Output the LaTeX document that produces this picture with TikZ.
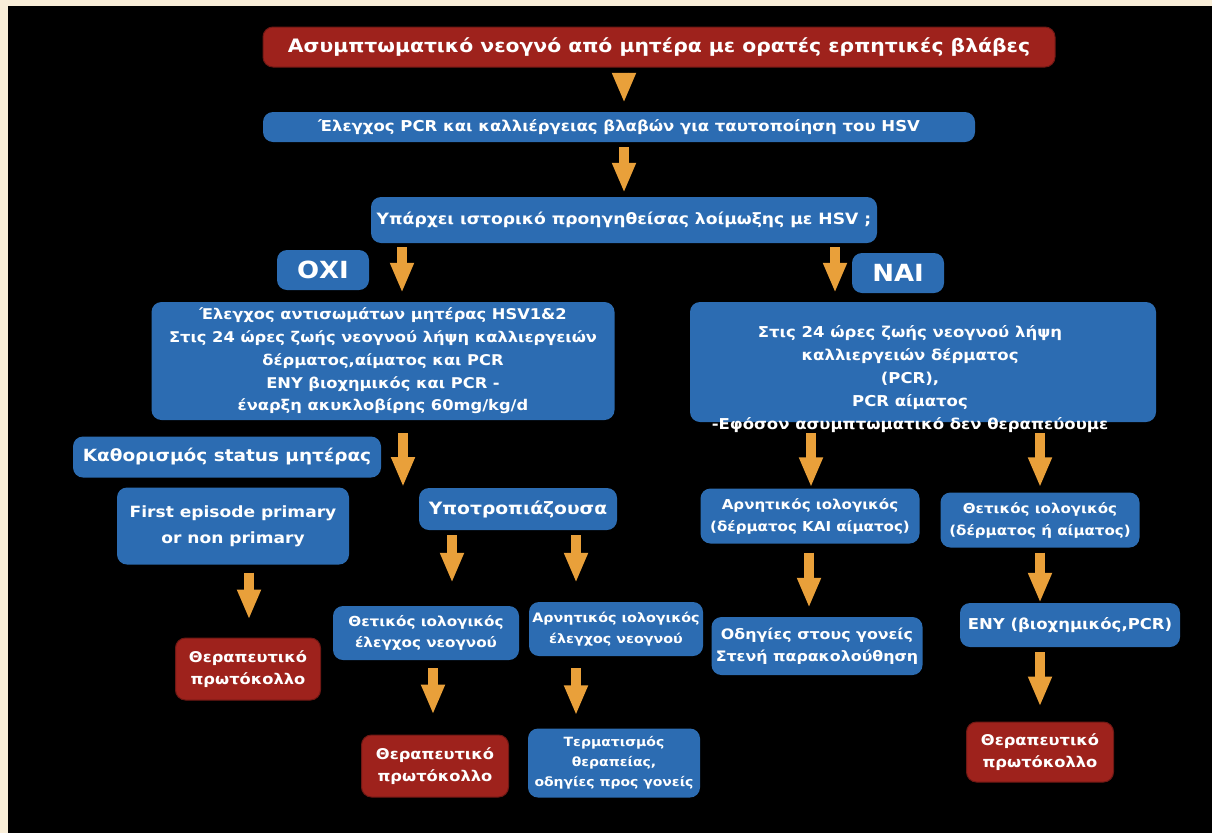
\documentclass[tikz,border=0pt]{standalone}
\usepackage{fontspec}
\setmainfont{DejaVu Sans}[FakeStretch=1.1]
\usepackage{tikz}
\usetikzlibrary{arrows.meta,positioning}
\definecolor{slidebeige}{RGB}{249,238,216}
\definecolor{boxblue}{RGB}{44,108,178}
\definecolor{boxred}{RGB}{158,34,28}
\definecolor{arroworange}{RGB}{233,160,58}
\tikzset{
         box/.style={rounded corners=10pt,inner sep=0pt,align=center,text=white},
         bluebox/.style={box,fill=boxblue},
         redbox/.style={box,fill=boxred,draw=boxred!70!black,line width=1pt},
         txt/.style 2 args={font=\bfseries\fontsize{#1}{#2}\selectfont},
         flow/.style={arroworange,line width=10pt,-{Triangle[length=30pt,width=22pt]}},
         gap/.style 2 args={shorten <=#1pt,shorten >=#2pt}
        }

\begin{document}
\begin{tikzpicture}[x=1pt,y=-1pt]
\useasboundingbox (0,0) rectangle (1212,833);
\fill[slidebeige] (0,0) rectangle (1212,833); % frame
\fill[black] (8,6) rectangle (1212,833); % slide
\node[redbox,txt={18.5}{23},minimum width=792pt,minimum height=40pt] (title) at (659,47) {Ασυμπτωματικό νεογνό από μητέρα με ορατές ερπητικές βλάβες}; % title
\node[bluebox,txt={15}{18},minimum width=712pt,minimum height=30pt] (pcr) at (619,127) {Έλεγχος PCR και καλλιέργειας βλαβών για ταυτοποίηση του HSV}; % PCR
\node[bluebox,txt={15.6}{19},minimum width=506pt,minimum height=46pt] (hist) at (624,220) {Υπάρχει ιστορικό προηγηθείσας λοίμωξης με HSV ;}; % history
\node[bluebox,txt={23.6}{28},minimum width=92pt,minimum height=40pt] (oxi) at (323,270) {ΟΧΙ}; % no
\node[bluebox,txt={23.6}{28},minimum width=92pt,minimum height=40pt] (nai) at (898,273) {ΝΑΙ}; % yes
\node[bluebox,txt={14.8}{22.8},minimum width=463pt,minimum height=118pt] (nobig) at (383,361) {Έλεγχος αντισωμάτων μητέρας HSV1\&2\\Στις 24 ώρες ζωής νεογνού λήψη καλλιεργειών\\δέρματος,αίματος και PCR\\ΕΝΥ βιοχημικός και PCR -\\έναρξη ακυκλοβίρης 60mg/kg/d}; % no branch
\node[bluebox,minimum width=466pt,minimum height=120pt] (yesbig) at (923,362) {}; % yes branch box
\node[box,txt={15}{23}] (yestext) at (910,379) {Στις 24 ώρες ζωής νεογνού λήψη\\καλλιεργειών δέρματος\\(PCR),\\PCR αίματος\\-Εφόσον ασυμπτωματικό δεν θεραπεύουμε}; % yes branch text
\node[bluebox,txt={16.8}{19},minimum width=308pt,minimum height=41pt] (status) at (227,457) {Καθορισμός status μητέρας}; % status
\node[bluebox,txt={15.5}{26},minimum width=232pt,minimum height=77pt] (first) at (233,526) {First episode primary\\or non primary}; % first episode
\node[bluebox,txt={17}{19},minimum width=198pt,minimum height=42pt] (relapse) at (518,509) {Υποτροπιάζουσα}; % recurrent
\node[redbox,txt={14.8}{22},minimum width=145pt,minimum height=62pt] (therapy1) at (248,669) {Θεραπευτικό\\πρωτόκολλο}; % protocol 1
\node[bluebox,txt={13.8}{21},minimum width=186pt,minimum height=54pt] (posnb) at (426,633) {Θετικός ιολογικός\\έλεγχος νεογνού}; % positive newborn
\node[bluebox,txt={13}{21},minimum width=174pt,minimum height=54pt] (negnb) at (616,629) {Αρνητικός ιολογικός\\έλεγχος νεογνού}; % negative newborn
\node[redbox,txt={14.8}{22},minimum width=147pt,minimum height=62pt] (therapy2) at (435,766) {Θεραπευτικό\\πρωτόκολλο}; % protocol 2
\node[bluebox,txt={12.7}{20},minimum width=172pt,minimum height=69pt] (stop) at (614,763) {Τερματισμός\\θεραπείας,\\οδηγίες προς γονείς}; % stop
\node[bluebox,txt={13.7}{22},minimum width=219pt,minimum height=55pt] (negsk) at (810,516) {Αρνητικός ιολογικός\\(δέρματος ΚΑΙ αίματος)}; % negative skin/blood
\node[bluebox,txt={13.7}{22},minimum width=199pt,minimum height=55pt] (possk) at (1040,520) {Θετικός ιολογικός\\(δέρματος ή αίματος)}; % positive skin/blood
\node[bluebox,txt={14.4}{22},minimum width=211pt,minimum height=58pt] (advice) at (817,646) {Οδηγίες στους γονείς\\Στενή παρακολούθηση}; % advice
\node[bluebox,txt={15}{18},minimum width=220pt,minimum height=44pt] (csf) at (1070,625) {ΕΝΥ (βιοχημικός,PCR)}; % CSF
\node[redbox,txt={14.8}{22},minimum width=147pt,minimum height=60pt] (therapy3) at (1040,752) {Θεραπευτικό\\πρωτόκολλο}; % protocol 3
\coordinate (noend) at (403,487); % free arrow end
\draw[flow,gap={5}{9}] (title.south -| hist.north) -- (pcr.north -| hist.north); % a1
\draw[flow,gap={5}{4}] (pcr.south -| hist.north) -- (hist.north); % a2
\draw[flow,gap={4}{9}] ([xshift=-222pt]hist.south) -- ([xshift=19pt]nobig.north); % a3
\draw[flow,gap={4}{9}] ([xshift=211pt]hist.south) -- ([xshift=-88pt]yesbig.north); % a4
\draw[flow,gap={13}{0}] ([xshift=20pt]nobig.south) -- (noend); % a5
\draw[flow,gap={8}{18}] ([xshift=16pt]first.south) -- ([xshift=1pt]therapy1.north); % a6
\draw[flow,gap={5}{23}] ([xshift=-66pt]relapse.south) -- ([xshift=26pt]posnb.north); % a7
\draw[flow,gap={5}{19}] ([xshift=58pt]relapse.south) -- ([xshift=-40pt]negnb.north); % a8
\draw[flow,gap={8}{20}] ([xshift=7pt]posnb.south) -- ([xshift=-2pt]therapy2.north); % a9
\draw[flow,gap={12}{13}] ([xshift=-40pt]negnb.south) -- ([xshift=-38pt]stop.north); % a10
\draw[flow,gap={11}{1}] ([xshift=-112pt]yesbig.south) -- ([xshift=1pt]negsk.north); % a11
\draw[flow,gap={11}{5}] ([xshift=117pt]yesbig.south) -- (possk.north); % a12
\draw[flow,gap={9}{9}] ([xshift=-1pt]negsk.south) -- ([xshift=-8pt]advice.north); % a13
\draw[flow,gap={5}{0}] (possk.south) -- ([xshift=-30pt]csf.north); % a14
\draw[flow,gap={5}{15}] ([xshift=-30pt]csf.south) -- (therapy3.north); % a15
\end{tikzpicture}
\end{document}
